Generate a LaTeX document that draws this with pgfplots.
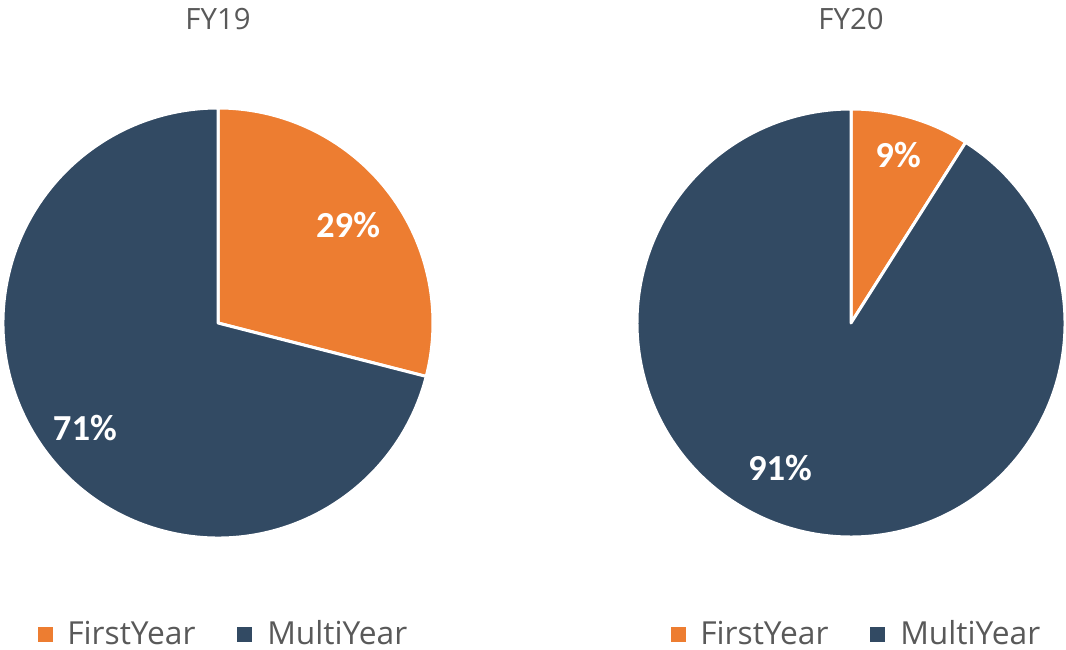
\documentclass[border=0pt]{standalone}
\usepackage{pgfplots}
\usepackage{pgfplotstable}
\pgfplotsset{compat=1.18}
\usepackage{fontspec}
\setmainfont{Open Sans}
\newfontfamily\labfont{Carlito}
\definecolor{fyOrange}{RGB}{237,125,49}
\definecolor{fyBlue}{RGB}{50,74,99}
\definecolor{fyGray}{RGB}{89,89,89}

% share of each group, in percent; lx/ly = label position (unit radius)
\pgfplotstableread{
label     value lx     ly
FirstYear 29    0.605  0.456
MultiYear 71   -0.619 -0.488
}\fynineteen
\pgfplotstableread{
label     value lx     ly
FirstYear 9     0.220  0.785
MultiYear 91   -0.332 -0.678
}\fytwenty

% #1 table, #2 centre x, #3 centre y (px), #4 radius (px)
\newcommand{\piechart}[4]{%
  \pgfplotstablegetelem{0}{value}\of{#1}\edef\va{\pgfplotsretval}%
  \pgfplotstablegetelem{1}{value}\of{#1}\edef\vb{\pgfplotsretval}%
  \pgfplotstablegetelem{0}{lx}\of{#1}\edef\ax{\pgfplotsretval}%
  \pgfplotstablegetelem{0}{ly}\of{#1}\edef\ay{\pgfplotsretval}%
  \pgfplotstablegetelem{1}{lx}\of{#1}\edef\bx{\pgfplotsretval}%
  \pgfplotstablegetelem{1}{ly}\of{#1}\edef\by{\pgfplotsretval}%
  \pgfmathsetmacro\ea{90-3.6*\va}%
  \pgfmathsetmacro\eb{\ea-3.6*\vb}%
  \pgfmathsetmacro\cea{cos(\ea)}%
  \pgfmathsetmacro\sea{sin(\ea)}%
  \pgfmathsetmacro\rr{0.75*#4}%
  \pgfmathsetmacro\px{0.75*#2}%
  \pgfmathsetmacro\py{0.75*#3}%
  \begin{axis}[at={(\px pt,\py pt)}, anchor=center,
      x=\rr pt, y=\rr pt, xmin=-1, xmax=1, ymin=-1, ymax=1,
      hide axis, scale only axis, clip=false]
    \fill[fyOrange, draw=white, line width=2.25pt, line join=round]
      (axis cs:0,0) -- (axis cs:0,1) arc[start angle=90, end angle=\ea, radius=\rr pt] -- cycle;
    \fill[fyBlue, draw=white, line width=2.25pt, line join=round]
      (axis cs:0,0) -- (axis cs:\cea,\sea) arc[start angle=\ea, end angle=\eb, radius=\rr pt] -- cycle;
    \node[text=white, font=\labfont\bfseries\fontsize{27.5}{30}\selectfont]
      at (axis cs:\ax,\ay) {\va\%};
    \node[text=white, font=\labfont\bfseries\fontsize{27.5}{30}\selectfont]
      at (axis cs:\bx,\by) {\vb\%};
  \end{axis}%
}

\begin{document}
\begin{tikzpicture}[x=0.75pt, y=0.75pt]
  \useasboundingbox (0,0) rectangle (1066,649);

  \piechart{\fynineteen}{218}{326}{215}
  \piechart{\fytwenty}{851}{326}{214}

  \foreach \cx/\ttl in {218/FY19, 851/FY20} {
    \node[anchor=base, text=fyGray, font=\fontsize{22}{26}\selectfont] at (\cx,619) {\ttl};
  }

  \foreach \dx in {0, 633} {
    \fill[fyOrange] (38+\dx,7.5) rectangle ++(15,15);
    \node[anchor=base west, inner sep=0pt, text=fyGray, font=\fontsize{23.8}{28}\selectfont] at (67+\dx,5) {FirstYear};
    \fill[fyBlue] (237+\dx,7.5) rectangle ++(15,15);
    \node[anchor=base west, inner sep=0pt, text=fyGray, font=\fontsize{23.8}{28}\selectfont] at (267+\dx,5) {MultiYear};
  }
\end{tikzpicture}
\end{document}
